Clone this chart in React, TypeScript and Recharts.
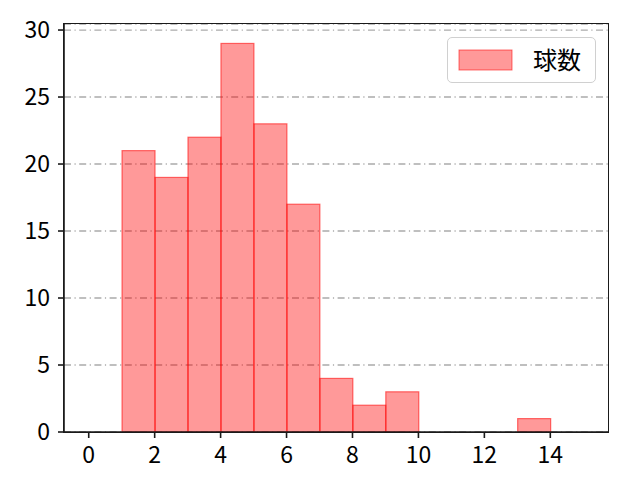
import React from "react";
import { BarChart, Bar, XAxis, YAxis, CartesianGrid, Legend } from "recharts";

const binCenters = [0.5, 1.5, 2.5, 3.5, 4.5, 5.5, 6.5, 7.5, 8.5, 9.5, 10.5, 11.5, 12.5, 13.5, 14.5];
const counts = [0, 21, 19, 22, 29, 23, 17, 4, 2, 3, 0, 0, 0, 1, 0];
const xTicks = [0, 2, 4, 6, 8, 10, 12, 14];
const yTicks = [0, 5, 10, 15, 20, 25, 30];
const seriesName = "球数";

const data = binCenters.map((x, i) => ({ x, count: counts[i] }));

const FONT = "'Noto Sans CJK JP', 'Noto Sans', sans-serif";
const W = 640;
const H = 480;
const PLOT = { left: 64, top: 24, width: 544, height: 408 };
const M = { top: PLOT.top, right: W - PLOT.left - PLOT.width, bottom: 0, left: 0 };
const X_DOMAIN: [number, number] = [-0.75, 15.75];
const barPx = PLOT.width / (X_DOMAIN[1] - X_DOMAIN[0]);

const HistBar = (props: any) => {
  const { x, y, width, height } = props;
  if (!height || height <= 0) return null;
  const cx = x + width / 2;
  return (
    <rect
      x={cx - barPx / 2}
      y={y}
      width={barPx}
      height={height}
      fill="red"
      fillOpacity={0.4}
      stroke="red"
      strokeOpacity={0.55}
      strokeWidth={1.2}
    />
  );
};

const LegendBox = () => (
  <div
    style={{
      position: "absolute",
      left: 447,
      top: 37,
      width: 147,
      height: 44,
      border: "1px solid #d0d0d0",
      borderRadius: 5,
      background: "rgba(255,255,255,0.8)",
      boxSizing: "content-box",
      fontFamily: FONT,
    }}
  >
    <svg width={147} height={44} style={{ position: "absolute", left: 0, top: 0 }}>
      <rect x={11} y={12} width={53} height={20} fill="red" fillOpacity={0.4} stroke="red" strokeOpacity={0.55} />
      <text x={85} y={31} fontSize={24} fill="#000" fontFamily={FONT}>
        {seriesName}
      </text>
    </svg>
  </div>
);

export default function App() {
  return (
    <div style={{ position: "absolute", left: 0, top: 0, width: W, height: H, background: "#fff" }}>
      <BarChart width={W} height={H} data={data} margin={M} barCategoryGap={0} barGap={0}>
        <CartesianGrid
          horizontal={true}
          vertical={false}
          stroke="#ababab"
          strokeWidth={1.3}
          strokeDasharray="7 3.5 1.2 3.5"
          yAxisId="left"
          xAxisId="bottom"
        />
        <XAxis
          dataKey="x"
          type="number"
          xAxisId="bottom"
          domain={X_DOMAIN}
          ticks={xTicks}
          allowDataOverflow
          height={48}
          tickSize={6}
          tickMargin={9}
          axisLine={{ stroke: "#1a1a1a", strokeWidth: 1.6 }}
          tickLine={{ stroke: "#1a1a1a", strokeWidth: 1.6 }}
          tick={{ fill: "#000", fontSize: 23, fontFamily: FONT }}
          interval={0}
        />
        <YAxis
          yAxisId="left"
          type="number"
          domain={[0, 30.45]}
          ticks={yTicks}
          allowDataOverflow
          width={64}
          tickSize={6}
          tickMargin={8}
          axisLine={{ stroke: "#1a1a1a", strokeWidth: 1.6 }}
          tickLine={{ stroke: "#1a1a1a", strokeWidth: 1.6 }}
          tick={{ fill: "#000", fontSize: 23, fontFamily: FONT }}
          interval={0}
        />
        <Legend content={() => null} />
        <Bar
          dataKey="count"
          name={seriesName}
          xAxisId="bottom"
          yAxisId="left"
          barSize={barPx}
          shape={HistBar}
          isAnimationActive={false}
        />
      </BarChart>
      <div
        style={{
          position: "absolute",
          left: PLOT.left - 0.8,
          top: PLOT.top - 0.8,
          width: PLOT.width,
          height: PLOT.height,
          border: "1.6px solid #1a1a1a",
          boxSizing: "content-box",
          pointerEvents: "none",
        }}
      />
      <LegendBox />
    </div>
  );
}
